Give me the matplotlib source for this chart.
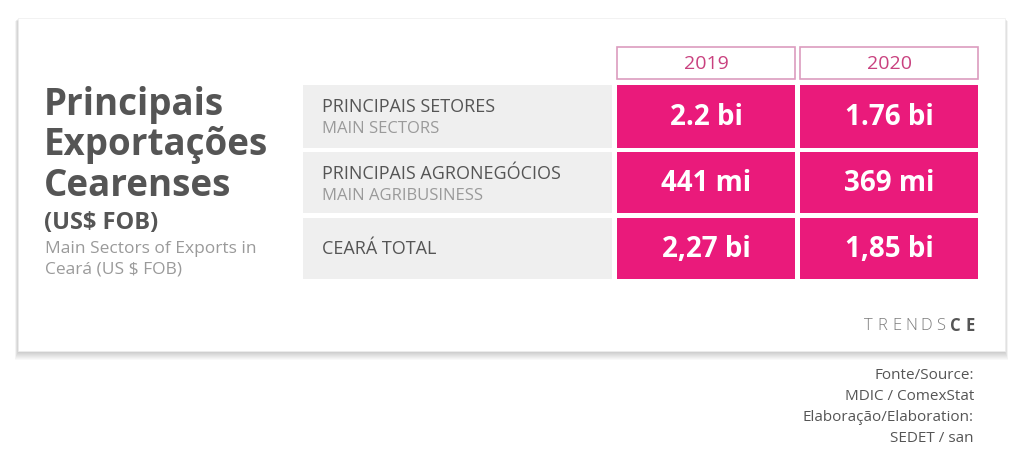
import matplotlib
matplotlib.use('Agg')
import matplotlib.pyplot as plt
from matplotlib.patches import Rectangle

# table content
years = ['2019', '2020']
row_titles = ['PRINCIPAIS SETORES', 'PRINCIPAIS AGRONEGÓCIOS', 'CEARÁ TOTAL']
row_subtitles = ['MAIN SECTORS', 'MAIN AGRIBUSINESS', '']
values_2019 = ['2.2 bi', '441 mi', '2,27 bi']
values_2020 = ['1.76 bi', '369 mi', '1,85 bi']
title_lines = ['Principais', 'Exportações', 'Cearenses']
source_lines = ['Fonte/Source:', 'MDIC / ComexStat', 'Elaboração/Elaboration:', 'SEDET / san']

pink = '#ea1a7b'
dark = '#555555'
light = '#9a9a9a'
font = 'Open Sans'

fig = plt.figure(figsize=(10.24, 4.75), dpi=100)
ax = fig.add_axes([0, 0, 1, 1])
ax.set_xlim(0, 1024)
ax.set_ylim(475, 0)
ax.axis('off')

# card with soft shadow
for k in range(8):
    off = 8 - k
    ax.add_patch(Rectangle((18 - off * 0.4, 18 + off * 0.4), 987 + off * 0.8, 334 + off * 0.6,
                           color='black', alpha=0.025, lw=0))
ax.add_patch(Rectangle((18, 18), 987, 333, facecolor='white', edgecolor='#eeeeee', lw=0.5))

# title block
for i, line in enumerate(title_lines):
    ax.text(44, 115 + i * 40.5, line, fontsize=26.5, fontweight='bold', color=dark,
            family=font, va='baseline')
ax.text(44, 229, '(US$ FOB)', fontsize=17, fontweight='bold', color=dark, family=font, va='baseline')
ax.text(45, 253, 'Main Sectors of Exports in', fontsize=12.5, color=light, family=font, va='baseline')
ax.text(45, 273, 'Ceará (US $ FOB)', fontsize=12.5, color=light, family=font, va='baseline')

# table geometry
row_top = [85, 152, 218]
row_h = [63, 61, 61]
col_x = [617, 800]
col_w = 178

# year headers
for x, yr in zip(col_x, years):
    ax.add_patch(Rectangle((x, 47), col_w, 32, facecolor='white', edgecolor='#dc9cbf', lw=1.2))
    ax.text(x + col_w / 2, 64, yr, fontsize=14, color='#c9417f', family=font,
            ha='center', va='center')

for i, (t, s) in enumerate(zip(row_titles, row_subtitles)):
    y0, h = row_top[i], row_h[i]
    ax.add_patch(Rectangle((303, y0), 309, h, facecolor='#efefef', lw=0))
    if s:
        ax.text(322, y0 + 27, t, fontsize=13, color=dark, family=font, va='baseline')
        ax.text(322, y0 + 48, s, fontsize=12, color=light, family=font, va='baseline')
    else:
        ax.text(322, y0 + h / 2, t, fontsize=13, color=dark, family=font, va='center')
    for x, v in zip(col_x, [values_2019[i], values_2020[i]]):
        ax.add_patch(Rectangle((x, y0), col_w, h, facecolor=pink, lw=0))
        ax.text(x + col_w / 2, y0 + h / 2 + 1, v, fontsize=20, fontweight='bold', color='white',
                family=font, ha='center', va='center')

# logo, letters spread out
logo = 'TRENDSCE'
for j, ch in enumerate(logo):
    bold = j >= 6
    ax.text(868 + j * 14.6, 326, ch, fontsize=12, color='#555555' if bold else '#7a7a7a',
            fontweight='bold' if bold else 'light', family=font, ha='center', va='center')

# source block
for i, line in enumerate(source_lines):
    ax.text(974, 379 + i * 21, line, fontsize=11, color=dark, family=font, ha='right', va='baseline')

fig.savefig('out.png', dpi=100, facecolor='white')
